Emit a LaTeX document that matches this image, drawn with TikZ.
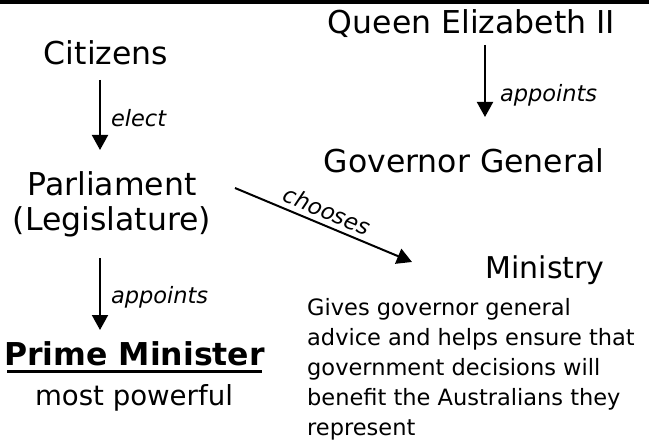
\documentclass[tikz,border=0pt]{standalone}
\usepackage{fontspec}
\setmainfont{DejaVu Sans}
\usetikzlibrary{arrows.meta}
\begin{document}
\begin{tikzpicture}[x=1pt,y=-1pt,
 big/.style={font=\fontsize{31.5}{35}\selectfont, inner sep=0pt, anchor=base},
 mid/.style={font=\fontsize{27.6}{31}\selectfont, inner sep=0pt, anchor=base},
 lbl/.style={font=\fontsize{22.5}{26}\selectfont\itshape, inner sep=0pt, anchor=base west},
 para/.style={font=\fontsize{22.5}{30}\selectfont, inner sep=0pt, anchor=base west, align=left},
 arr/.style={line width=2pt, -{Triangle[width=16pt,length=15pt]}}]
\useasboundingbox (0,0) rectangle (649,444);
\fill (0,0) rectangle (649,4);
% left column
\node[big] (cit) at (106,65) {Citizens};
\node[big] (parl) at (112,195) {Parliament};
\node[big] (legis) at (112,230) {(Legislature)};
\node[big] (pm) at (134.5,365) {\bfseries Prime Minister};
\draw[line width=3pt] ([shift={(-127.5,6.5)}]pm.base) -- ([shift={(127.5,6.5)}]pm.base);
\node[mid] (mp) at (134,405) {most powerful};
\draw[arr] ([shift={(-6,15)}]cit.base) -- node[lbl, pos=0.55, right=10pt, anchor=west] (el) {elect} ([shift={(-12,-45)}]parl.base);
\draw[arr] ([shift={(-12,28)}]legis.base) -- node[lbl, pos=0.55, right=10pt, anchor=west] (ap1) {appoints} ([shift={(-34.5,-35)}]pm.base);
% right column
\node[big] (queen) at (471.5,34) {Queen Elizabeth II};
\node[big] (gov) at (464,172) {Governor General};
\draw[arr] ([shift={(13.5,11)}]queen.base) -- node[lbl, pos=0.7, right=14pt, anchor=west] (ap2) {appoints} ([shift={(21,-55)}]gov.base);
\node[font=\fontsize{30}{34}\selectfont, inner sep=0pt, anchor=base] (min) at (545,278) {Ministry};
\node[para] (desc) at (307,435) {Gives governor general\\advice and helps ensure that\\government decisions will\\benefit the Australians they\\represent};
\draw[arr] ([shift={(123,-7)}]parl.base) -- node[font=\fontsize{22.5}{26}\selectfont\itshape, inner sep=0pt, pos=0.49, sloped, above=5pt] (ch) {chooses} ([shift={(-133,-16)}]min.base);
\end{tikzpicture}
\end{document}
